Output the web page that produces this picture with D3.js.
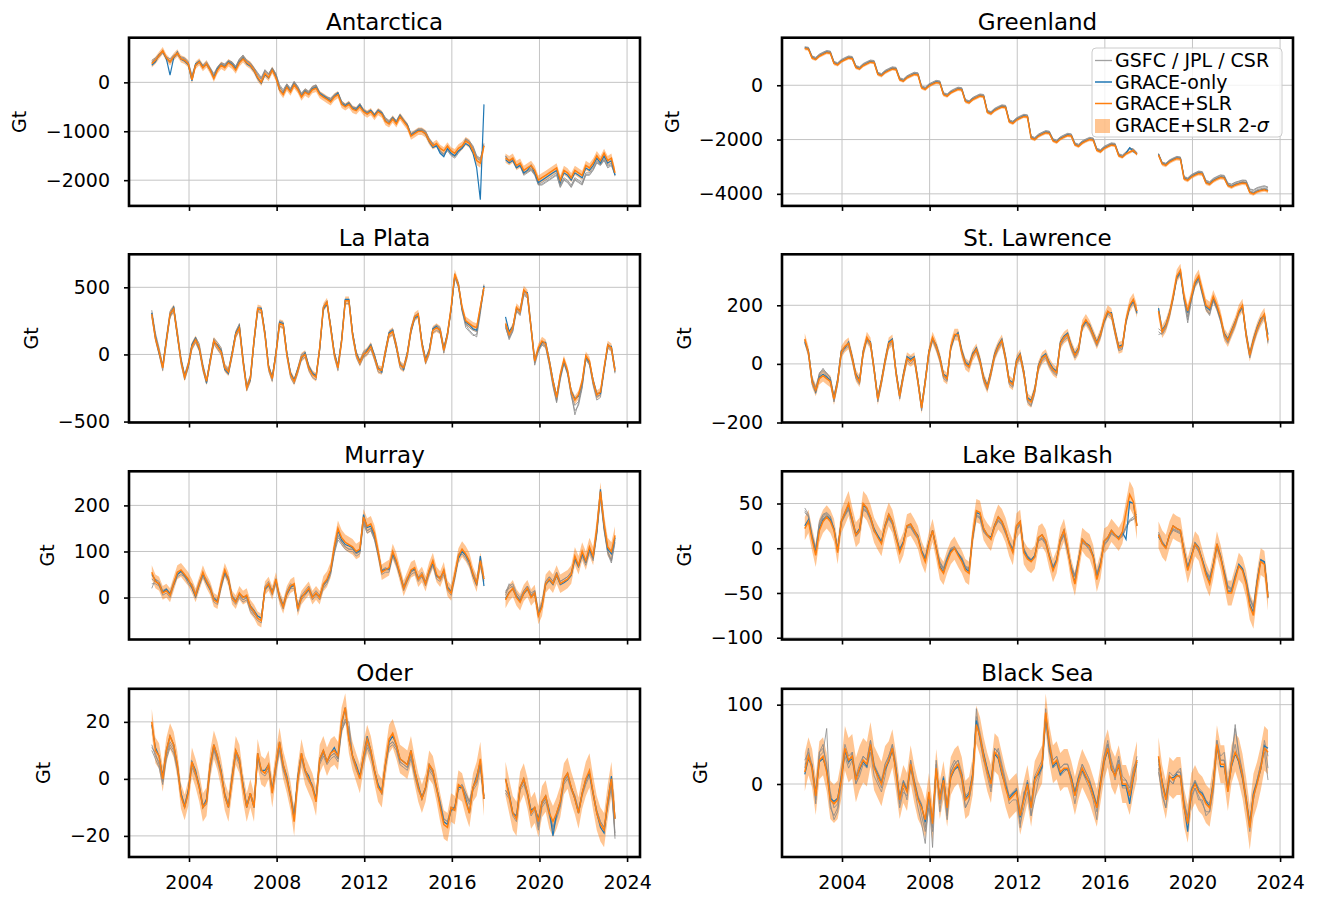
<!DOCTYPE html>
<html><head><meta charset="utf-8">
<script src="https://cdn.jsdelivr.net/npm/d3@7"></script>
<style>body{margin:0;background:#fff}svg{display:block;font-family:"DejaVu Sans",sans-serif}</style>
</head><body><svg id="c" width="1317" height="897"></svg>
<script>
// ---- time grid: bi-monthly samples, GRACE (Apr 2002 – Jun 2017) and GRACE-FO (Jun 2018 – mid 2023)
const N1 = 92, N2 = 31, STEP = 1/6, T1 = 2002.3, T2 = 2018.45;
const X_TICKS = [2004, 2008, 2012, 2016, 2020, 2024];
const X_DOMAIN = [2001.26, 2024.59];

// ---- Antarctica
const ANT_SLR=[380,450,550,650,500,420,520,600,480,450,380,50,350,420,300,380,250,80,250,350,300,400,350,250,400,480,400,350,250,100,0,180,100,250,100,-150,-250,-100,-200,-50,-150,-300,-200,-250,-150,-120,-250,-300,-350,-400,-300,-250,-450,-500,-450,-550,-580,-500,-600,-650,-600,-700,-600,-650,-800,-850,-750,-850,-700,-800,-900,-1100,-1050,-1000,-1000,-1050,-1200,-1300,-1250,-1350,-1400,-1300,-1400,-1450,-1350,-1300,-1200,-1250,-1400,-1600,-1650,-1300,
-1550,-1600,-1550,-1700,-1650,-1800,-1750,-1700,-1800,-2000,-1950,-1900,-1850,-1800,-1750,-2000,-1800,-1850,-1950,-1800,-1850,-1900,-1700,-1750,-1650,-1500,-1600,-1450,-1600,-1550,-1850];
const ANT_GO=[350,420,560,640,480,150,500,620,470,430,360,30,380,430,320,370,260,100,280,360,320,420,370,280,420,500,380,330,230,80,-20,160,90,260,120,-160,-230,-80,-180,-30,-140,-280,-180,-240,-130,-100,-230,-280,-330,-380,-290,-220,-430,-480,-430,-530,-560,-470,-580,-640,-580,-680,-580,-630,-790,-840,-730,-830,-680,-790,-880,-1080,-1030,-980,-990,-1060,-1220,-1330,-1300,-1450,-1520,-1350,-1450,-1500,-1400,-1350,-1250,-1300,-1450,-1750,-2400,-450,
-1580,-1650,-1600,-1750,-1700,-1850,-1800,-1700,-1850,-2050,-2000,-1950,-1900,-1850,-1800,-2050,-1850,-1900,-2000,-1850,-1900,-1950,-1750,-1800,-1700,-1550,-1650,-1500,-1650,-1600,-1900];
const ANT_GSFC=[450,500,580,620,520,480,560,580,520,500,420,150,380,450,350,420,300,180,320,400,380,450,420,330,480,560,450,400,300,200,100,260,180,300,180,-50,-150,-30,-120,20,-80,-220,-130,-180,-80,-50,-200,-250,-300,-320,-250,-200,-380,-450,-400,-500,-520,-430,-560,-600,-560,-650,-550,-600,-720,-780,-700,-780,-650,-760,-850,-1050,-1000,-950,-950,-1000,-1150,-1250,-1300,-1420,-1500,-1400,-1500,-1550,-1450,-1350,-1150,-1200,-1300,-1500,-1550,-1300,
-1500,-1600,-1580,-1750,-1700,-1900,-1850,-1800,-1900,-2100,-2100,-2050,-2000,-1950,-1900,-2150,-2000,-2050,-2150,-2000,-2050,-2100,-1900,-1900,-1800,-1650,-1700,-1600,-1750,-1700,-1900];
const ANT_JPL=[400,480,520,600,480,400,500,560,470,470,360,100,330,400,290,360,240,120,280,380,340,420,400,300,450,520,420,380,280,150,60,220,150,280,150,-100,-200,-60,-160,0,-110,-260,-160,-210,-110,-80,-220,-270,-320,-360,-270,-230,-410,-470,-420,-520,-540,-460,-570,-620,-570,-660,-570,-620,-760,-810,-720,-810,-680,-780,-870,-1080,-1020,-980,-970,-1020,-1180,-1280,-1280,-1400,-1460,-1360,-1460,-1500,-1400,-1320,-1180,-1230,-1350,-1550,-1600,-1250,
-1520,-1620,-1560,-1720,-1680,-1850,-1800,-1760,-1860,-2080,-2050,-2000,-1950,-1900,-1850,-2100,-1950,-2000,-2100,-1950,-2000,-2050,-1850,-1850,-1750,-1600,-1680,-1550,-1700,-1650,-1880];
const ANT_CSR=[420,470,560,630,510,440,540,590,500,480,400,120,360,430,320,400,280,150,300,390,360,440,410,320,470,540,440,390,290,180,80,240,170,290,170,-80,-180,-40,-140,10,-100,-240,-150,-200,-100,-60,-210,-260,-310,-340,-260,-210,-400,-460,-410,-510,-530,-440,-565,-610,-565,-655,-560,-610,-740,-800,-710,-800,-670,-770,-860,-1060,-1010,-960,-960,-1010,-1160,-1260,-1290,-1410,-1480,-1380,-1480,-1520,-1420,-1330,-1160,-1210,-1320,-1520,-1580,-1280,
-1510,-1610,-1570,-1740,-1690,-1870,-1830,-1780,-1880,-2090,-2080,-2030,-1980,-1930,-1880,-2130,-1980,-2030,-2130,-1980,-2030,-2080,-1880,-1880,-1780,-1630,-1690,-1580,-1720,-1680,-1890];
const ANT_SIG=[75,75,75,75,75,75,75,75,75,75,75,75,75,75,85,95,95,95,95,95,95,95];

// ---- Greenland
const GRL_SLR=[1350,1330,1000,950,1070,1140,1200,1180,800,750,870,940,1000,980,650,600,720,790,850,830,400,350,470,540,600,580,200,150,270,340,400,380,-100,-150,-30,40,100,80,-350,-400,-280,-210,-150,-170,-600,-650,-530,-460,-400,-420,-1000,-1050,-930,-860,-800,-820,-1350,-1400,-1280,-1210,-1150,-1170,-1950,-2000,-1880,-1810,-1750,-1770,-2050,-2100,-1980,-1910,-1850,-1870,-2200,-2250,-2130,-2060,-2000,-2020,-2400,-2450,-2330,-2260,-2200,-2220,-2600,-2650,-2530,-2460,-2400,-2550,
-2570,-2900,-2950,-2830,-2760,-2700,-2720,-3450,-3500,-3380,-3310,-3250,-3270,-3600,-3650,-3530,-3460,-3400,-3420,-3700,-3750,-3680,-3640,-3600,-3620,-3950,-4000,-3920,-3880,-3850,-3900];
const GRL_GO=[1370,1340,1020,960,1090,1150,1220,1190,820,760,890,950,1020,990,670,610,740,800,870,840,420,360,490,550,620,590,220,160,290,350,420,390,-80,-140,-10,50,120,90,-330,-390,-260,-200,-130,-160,-580,-640,-510,-450,-380,-410,-980,-1040,-910,-850,-780,-810,-1330,-1390,-1260,-1200,-1130,-1160,-1930,-1990,-1860,-1800,-1730,-1760,-2030,-2090,-1960,-1900,-1830,-1860,-2180,-2240,-2110,-2050,-1980,-2010,-2380,-2440,-2310,-2250,-2180,-2210,-2580,-2640,-2510,-2300,-2450,-2530,
-2550,-2880,-2930,-2810,-2740,-2680,-2700,-3430,-3480,-3360,-3290,-3230,-3250,-3580,-3630,-3510,-3440,-3380,-3400,-3680,-3730,-3660,-3620,-3580,-3600,-3930,-3980,-3900,-3860,-3830,-3880];
const GRL_GSFC=[1400,1380,1060,1010,1130,1200,1260,1240,860,810,930,1000,1060,1040,710,660,780,850,910,890,460,410,530,600,660,640,260,210,330,400,460,440,-40,-90,30,100,160,140,-290,-340,-220,-150,-90,-110,-540,-590,-470,-400,-340,-360,-940,-990,-870,-800,-740,-760,-1290,-1340,-1220,-1150,-1090,-1110,-1890,-1940,-1820,-1750,-1690,-1710,-1990,-2040,-1920,-1850,-1790,-1810,-2140,-2190,-2070,-2000,-1940,-1960,-2340,-2390,-2270,-2200,-2140,-2160,-2540,-2590,-2470,-2300,-2360,-2500,
-2530,-2850,-2890,-2770,-2700,-2640,-2660,-3380,-3430,-3310,-3240,-3180,-3200,-3520,-3570,-3450,-3380,-3320,-3340,-3620,-3660,-3590,-3550,-3510,-3520,-3840,-3880,-3800,-3760,-3730,-3780];
const GRL_JPL=[1380,1360,1030,980,1100,1170,1230,1210,830,780,900,970,1030,1010,680,630,750,820,880,860,430,380,500,570,630,610,230,180,300,370,430,410,-70,-120,0,70,130,110,-320,-370,-250,-180,-120,-140,-570,-620,-500,-430,-370,-390,-970,-1020,-900,-830,-770,-790,-1320,-1370,-1250,-1180,-1120,-1140,-1920,-1970,-1850,-1780,-1720,-1740,-2020,-2070,-1950,-1880,-1820,-1840,-2170,-2220,-2100,-2030,-1970,-1990,-2370,-2420,-2300,-2230,-2170,-2190,-2570,-2620,-2500,-2350,-2380,-2520,
-2550,-2870,-2920,-2800,-2730,-2670,-2690,-3410,-3460,-3340,-3270,-3210,-3230,-3560,-3610,-3490,-3420,-3360,-3380,-3650,-3700,-3630,-3590,-3550,-3570,-3890,-3930,-3850,-3810,-3780,-3830];
const GRL_CSR=[1420,1400,1080,1030,1150,1220,1280,1260,880,830,950,1020,1080,1060,730,680,800,870,930,910,480,430,550,620,680,660,280,230,350,420,480,460,-20,-70,50,120,180,160,-270,-320,-200,-130,-70,-90,-520,-570,-450,-380,-320,-340,-920,-970,-850,-780,-720,-740,-1270,-1320,-1200,-1130,-1070,-1090,-1870,-1920,-1800,-1730,-1670,-1690,-1970,-2020,-1900,-1830,-1770,-1790,-2120,-2170,-2050,-1980,-1920,-1940,-2320,-2370,-2250,-2180,-2120,-2140,-2520,-2570,-2450,-2320,-2340,-2480,
-2510,-2830,-2870,-2750,-2680,-2620,-2640,-3360,-3410,-3290,-3220,-3160,-3180,-3500,-3550,-3430,-3360,-3300,-3320,-3600,-3640,-3570,-3530,-3490,-3500,-3820,-3850,-3770,-3730,-3700,-3750];
const GRL_SIG=[60,60,60,60,60,60,60,60,60,60,60,60,60,60,60,60,70,70,70,70,70,70];

// ---- La Plata
const LAP_SLR=[300,120,20,-100,100,300,340,150,-50,-170,-80,60,110,50,-100,-200,-50,100,60,20,-100,-130,0,150,200,-50,-250,-180,100,340,330,150,-100,-180,0,230,220,0,-150,-200,-120,-20,0,-100,-150,-170,50,350,390,200,0,-100,100,400,400,150,0,-60,0,20,60,-20,-110,-120,20,150,170,60,-80,-100,0,180,280,300,80,-50,20,180,200,180,30,150,350,600,520,350,250,230,210,200,350,500,
230,150,200,350,320,480,450,200,-50,50,100,80,-50,-200,-320,-150,-40,-120,-280,-340,-300,-200,-10,-50,-200,-300,-280,-100,70,50,-120];
const LAP_GO=[310,130,10,-90,110,290,350,140,-40,-160,-90,70,120,40,-90,-210,-40,90,70,30,-110,-140,10,160,210,-40,-240,-190,90,330,340,160,-90,-170,10,240,230,10,-140,-190,-110,-30,10,-90,-140,-160,40,340,380,210,10,-90,110,410,410,160,10,-50,-10,30,70,-10,-100,-130,10,160,180,50,-70,-110,10,170,270,290,90,-40,30,190,210,170,40,160,340,590,530,340,240,220,190,180,340,510,
280,170,210,340,330,470,460,210,-40,40,90,90,-40,-190,-310,-160,-50,-130,-270,-330,-310,-210,-20,-60,-190,-290,-290,-110,60,60,-110];
const LAP_GSFC=[330,160,50,-80,130,320,360,180,-20,-150,-60,80,130,80,-70,-190,-30,120,90,50,-80,-110,20,170,230,-20,-230,-160,120,350,350,170,-80,-170,20,250,240,20,-130,-190,-100,0,20,-80,-130,-160,60,360,400,220,20,-80,110,410,410,170,20,-50,20,40,80,0,-100,-110,40,170,190,80,-60,-90,20,200,290,300,100,-30,40,200,220,200,60,150,330,570,500,320,220,180,150,130,300,520,
200,120,180,330,300,450,430,190,-60,30,80,60,-70,-230,-350,-180,-60,-140,-300,-380,-350,-240,-30,-70,-220,-320,-300,-120,60,40,-130];
const LAP_JPL=[280,110,0,-120,80,280,320,130,-70,-190,-100,40,90,30,-120,-220,-70,80,40,0,-120,-150,-20,130,180,-70,-270,-200,80,320,310,130,-120,-200,-20,210,200,-20,-170,-220,-140,-40,-20,-120,-170,-190,30,330,370,180,-20,-120,80,380,380,130,-20,-80,-20,0,40,-40,-130,-140,0,130,150,40,-100,-120,-20,160,260,280,60,-70,0,160,180,160,10,130,330,580,510,330,200,170,140,150,320,480,
210,110,170,320,290,440,420,180,-80,20,70,50,-80,-240,-360,-190,-70,-150,-310,-420,-380,-250,-40,-80,-230,-340,-320,-130,50,30,-140];
const LAP_CSR=[310,140,30,-90,110,310,350,160,-40,-160,-70,70,120,60,-90,-200,-40,110,70,30,-90,-120,10,160,210,-40,-250,-170,110,340,340,160,-90,-180,10,240,230,10,-140,-200,-110,-10,10,-90,-140,-170,50,350,390,210,10,-90,100,400,400,160,10,-60,10,30,70,-10,-110,-120,30,160,180,70,-70,-100,10,190,280,310,90,-40,30,190,210,190,40,140,340,590,510,340,230,200,180,170,330,510,
220,130,190,340,310,460,440,200,-60,40,90,70,-60,-220,-340,-170,-50,-130,-290,-450,-360,-230,-20,-60,-210,-310,-300,-110,80,50,-130];
const LAP_SIG=[32,32,32,32,32,32,32,32,32,32,32,32,32,32,32,32,32,32,32,32,32,32];

// ---- St. Lawrence
const STL_SLR=[85,40,-60,-90,-50,-40,-50,-60,-120,-60,40,60,70,20,-40,-60,40,90,70,-20,-120,-60,10,70,80,-30,-110,-40,20,10,20,-60,-150,-60,40,90,60,20,-40,-50,60,100,100,40,0,-10,30,50,10,-50,-80,-30,30,60,80,20,-60,-70,10,30,-30,-120,-130,-90,-10,20,30,0,-20,-30,70,90,100,60,30,50,130,150,130,100,70,100,150,180,170,110,55,60,150,200,220,180,
180,110,130,170,230,300,320,230,180,230,280,300,250,200,190,230,200,160,100,80,110,140,180,200,100,30,80,120,150,170,80];
const STL_GO=[75,45,-55,-95,-45,-35,-45,-55,-115,-55,45,55,75,25,-35,-55,45,85,75,-15,-115,-55,15,75,85,-25,-105,-35,25,15,25,-55,-145,-55,45,85,65,25,-35,-45,55,95,105,45,5,-5,35,55,15,-45,-75,-25,35,65,85,25,-55,-65,15,35,-25,-115,-125,-85,-5,25,35,5,-15,-25,75,95,105,65,35,55,125,145,135,105,75,105,145,175,175,115,60,65,145,195,215,175,
190,115,135,175,225,295,315,225,175,225,275,295,245,195,185,225,195,155,105,85,115,145,175,195,105,35,85,125,155,165,100];
const STL_GSFC=[80,30,-70,-100,-30,-20,-30,-50,-130,-70,30,50,60,10,-50,-70,30,80,60,-30,-130,-70,0,60,70,-40,-120,-50,10,20,10,-70,-160,-70,30,80,50,10,-50,-60,50,90,110,50,10,0,40,40,0,-60,-90,-40,20,50,70,10,-70,-80,0,20,-40,-130,-145,-100,-20,10,20,-10,-30,-40,60,80,90,50,20,40,120,140,120,90,60,90,140,170,160,100,45,50,140,190,210,170,
110,100,120,160,220,290,310,220,150,220,270,290,240,190,170,220,190,150,90,70,100,130,170,190,90,20,70,110,140,160,70];
const STL_JPL=[70,35,-65,-85,-40,-25,-40,-65,-125,-65,35,55,65,15,-45,-65,35,85,65,-25,-125,-65,5,65,75,-35,-115,-45,15,0,15,-65,-155,-65,35,85,55,15,-45,-55,55,95,95,35,-5,-15,25,45,5,-55,-85,-35,25,55,75,15,-65,-75,5,25,-35,-125,-140,-95,-15,15,25,-5,-25,-35,65,85,95,55,25,45,125,145,125,95,65,95,145,175,165,105,50,55,145,195,215,175,
100,105,125,165,225,290,305,215,140,215,265,285,235,185,165,215,185,145,95,75,105,135,175,195,95,25,75,115,145,165,75];
const STL_CSR=[80,40,-50,-80,-35,-15,-35,-45,-110,-50,45,60,70,20,-35,-55,40,90,70,-15,-115,-55,10,70,80,-25,-105,-35,20,25,20,-55,-145,-55,40,90,60,20,-35,-45,60,100,100,40,0,-5,30,50,10,-45,-75,-25,30,60,80,20,-55,-65,10,30,-25,-115,-130,-85,-5,20,30,5,-15,-25,70,90,100,60,30,50,130,150,130,100,70,100,150,180,170,110,60,60,150,200,220,180,
120,110,130,170,230,295,310,225,160,225,275,295,245,195,180,225,195,155,100,80,110,140,180,200,100,30,80,120,150,170,80];
const STL_SIG=[20,20,20,20,20,20,20,20,20,20,20,20,20,20,20,22,22,22,22,22,22,22];

// ---- Murray
const MUR_SLR=[55,35,30,10,15,5,30,55,60,50,40,25,5,30,55,35,20,-5,-10,30,60,40,0,-10,10,0,5,-20,-30,-45,-50,20,30,10,40,0,-20,10,25,30,-25,0,10,20,0,10,0,30,40,60,110,150,130,120,115,110,100,105,175,155,160,140,100,55,60,65,100,80,50,20,40,60,65,40,50,30,60,80,50,40,60,20,10,50,90,105,95,80,50,30,80,40,
-5,10,20,0,-10,10,20,0,10,-40,-20,30,40,30,50,30,35,40,50,90,70,100,80,110,90,150,230,160,110,100,135];
const MUR_GO=[50,38,28,12,18,8,28,50,58,48,38,22,2,28,52,32,18,-2,-8,28,55,38,2,-8,8,2,2,-18,-28,-40,-45,18,28,12,38,2,-18,8,22,28,-22,2,8,18,2,8,2,28,38,58,108,145,125,115,112,108,98,102,180,152,155,135,98,58,62,62,95,78,48,22,38,58,62,42,48,32,58,75,48,42,58,22,12,48,85,100,92,78,48,28,90,25,
-2,12,18,2,-8,8,18,2,8,-38,-18,28,38,28,48,28,32,38,48,85,68,95,78,105,88,145,235,155,105,95,130];
const MUR_GSFC=[20,40,35,15,20,10,35,50,55,45,35,30,10,35,50,40,25,0,-5,25,55,45,5,-5,5,-5,0,-25,-35,-40,-45,25,35,15,35,5,-15,15,30,25,-20,5,15,25,5,15,5,25,35,55,100,130,120,110,105,105,95,100,165,145,150,130,95,60,65,60,95,75,55,25,45,55,60,45,55,35,55,75,45,45,55,25,15,45,95,100,90,75,55,35,75,45,
5,25,30,10,0,15,25,10,15,-30,-10,35,45,35,55,35,40,45,55,85,70,95,75,105,85,140,220,150,100,80,125];
const MUR_JPL=[30,30,25,5,10,0,25,45,50,45,30,20,0,25,45,30,15,-10,-15,20,50,35,-5,-15,0,-10,-5,-30,-40,-50,-55,15,25,5,30,-5,-25,5,20,20,-30,-5,5,15,-5,5,-5,20,30,50,95,125,115,105,100,100,90,95,160,140,145,125,90,50,55,55,90,70,45,15,35,50,55,35,45,25,50,70,40,35,50,15,5,40,85,95,85,70,45,25,70,35,
10,30,20,5,-5,10,20,5,10,-35,-15,30,40,30,50,30,35,40,50,80,65,90,70,100,80,135,215,145,95,75,120];
const MUR_CSR=[40,35,30,10,15,5,30,50,55,50,35,25,5,30,50,35,20,-5,-10,25,55,40,0,-10,5,-5,0,-20,-35,-45,-50,20,30,10,35,0,-20,10,25,25,-25,0,10,20,0,10,0,25,35,55,100,135,120,110,105,105,95,100,170,145,150,130,95,55,60,60,95,75,50,20,40,55,60,40,50,30,55,75,45,40,55,20,10,45,90,100,90,75,50,30,75,40,
15,20,25,5,-5,15,25,5,15,-35,-15,35,45,35,55,35,40,45,55,85,70,95,75,105,85,140,225,150,100,80,130];
const MUR_SIG=[15,15,15,15,15,15,15,15,17,17,17,17,17,17,17,18,18,18,20,20,20,20];

// ---- Lake Balkash
const BAL_SLR=[22,30,10,-8,20,30,35,30,20,-5,30,40,50,32,15,20,50,45,35,20,12,5,25,38,30,12,-5,5,25,27,20,12,-5,-15,5,20,0,-22,-28,-15,-5,0,-8,-15,-25,-28,15,42,40,22,15,10,25,35,30,20,5,-5,25,30,-5,-12,-15,-10,12,15,8,-10,-25,-15,10,20,0,-25,-40,-15,10,5,2,-10,-35,-20,8,12,20,15,10,18,40,60,52,25,
15,5,0,15,25,22,20,-5,-25,-10,5,0,-15,-30,-40,-20,5,-10,-30,-50,-50,-35,-20,-25,-40,-65,-75,-40,-15,-18,-55];
const BAL_GO=[25,32,12,-5,22,32,36,32,22,-3,30,40,48,33,16,22,48,44,35,22,14,7,26,38,30,14,-3,7,25,27,20,14,-3,-13,6,20,0,-20,-27,-13,-3,0,-6,-13,-23,-26,14,40,38,22,15,12,26,35,30,20,6,-3,25,30,-3,-10,-14,-8,12,15,8,-8,-23,-13,10,20,0,-23,-38,-13,10,6,3,-8,-33,-18,8,12,20,15,12,18,10,52,50,25,
13,6,1,15,25,22,20,-3,-23,-8,6,1,-13,-28,-38,-18,5,-8,-28,-48,-48,-33,-18,-23,-38,-62,-72,-38,-13,-15,-55];
const BAL_GSFC=[45,38,15,0,30,38,40,36,22,0,30,38,45,30,15,20,45,42,33,20,15,8,25,35,28,12,0,8,25,25,18,12,-2,-10,8,20,2,-15,-22,-10,0,2,-5,-10,-20,-22,12,38,35,20,15,12,25,32,28,18,8,0,22,28,0,-8,-12,-8,10,12,6,-8,-20,-12,8,16,-2,-20,-30,-12,8,5,0,-8,-28,-15,5,10,18,15,12,15,25,32,35,38,
18,8,2,15,22,20,18,-2,-20,-8,5,-2,-12,-25,-32,-18,2,-10,-25,-42,-45,-30,-18,-22,-35,-55,-65,-35,-12,-15,-50];
const BAL_JPL=[40,35,12,-3,25,35,38,33,20,-2,28,36,43,28,13,18,43,40,31,18,13,6,23,33,26,10,-2,6,23,23,16,10,-4,-12,6,18,0,-17,-24,-12,-2,0,-7,-12,-22,-24,10,36,33,18,13,10,23,30,26,16,6,-2,20,26,-2,-10,-14,-10,8,10,4,-10,-22,-14,6,14,-4,-22,-32,-14,6,3,-2,-10,-30,-17,3,8,16,13,10,13,22,30,32,35,
15,5,0,13,20,18,16,-4,-22,-10,3,-4,-14,-27,-34,-20,0,-12,-27,-44,-47,-32,-20,-24,-37,-57,-67,-37,-14,-17,-52];
const BAL_CSR=[42,36,14,-1,27,37,39,35,21,-1,29,37,44,29,14,19,44,41,32,19,14,7,24,34,27,11,-1,7,24,24,17,11,-3,-11,7,19,1,-16,-23,-11,-1,1,-6,-11,-21,-23,11,37,34,19,14,11,24,31,27,17,7,-1,21,27,-1,-9,-13,-9,9,11,5,-9,-21,-13,7,15,-3,-21,-31,-13,7,4,-1,-9,-29,-16,4,9,17,14,11,14,23,31,33,36,
16,6,1,14,21,19,17,-3,-21,-9,4,-3,-13,-26,-33,-19,1,-11,-26,-43,-46,-31,-19,-23,-36,-56,-66,-36,-13,-16,-56];
const BAL_SIG=[13,13,14,14,13,13,13,13,13,14,13,13,13,14,13,15,15,14,14,14,15,15];

// ---- Oder
const ODE_SLR=[20,10,8,0,10,15,12,5,-6,-10,-5,6,2,-3,-10,-8,5,12,8,2,-6,-10,0,10,7,-3,-10,-5,-10,9,3,2,5,-5,5,13,5,0,-6,-15,0,9,3,0,-3,-8,7,10,6,9,10,8,20,25,14,8,4,0,8,14,10,3,-3,-5,5,14,16,12,7,6,5,10,3,-3,-7,-3,5,3,-3,-10,-16,-17,-10,-11,-2,-3,-8,-12,-3,0,7,-7,
0,-6,-12,-14,-3,0,-5,-12,-10,-15,-8,-6,-12,-15,-12,-8,0,2,-3,-7,-12,-5,0,3,-5,-12,-16,-18,-8,0,-14];
const ODE_GO=[19,11,8,1,10,15,12,5,-5,-10,-4,6,3,-3,-10,-7,5,12,8,3,-6,-10,1,10,7,-2,-10,-5,-10,9,3,3,5,-4,5,13,5,1,-6,-14,1,9,3,1,-3,-7,7,10,6,9,11,8,19,25,14,8,5,1,8,15,10,3,-2,-5,5,13,15,12,7,6,5,10,3,-2,-7,-3,5,3,-3,-9,-15,-16,-11,-10,-3,-3,-7,-12,-3,1,6,-7,
0,-5,-12,-13,-3,0,-5,-11,-10,-14,-8,-6,-11,-20,-12,-8,0,2,-3,-7,-12,-5,0,2,-5,-12,-17,-19,-8,1,-14];
const ODE_GSFC=[12,8,6,-1,8,12,10,4,-5,-9,-4,5,2,-2,-9,-8,4,11,7,2,-5,-9,0,9,6,-2,-9,-5,-9,8,3,2,4,-4,4,11,4,0,-6,-12,0,8,3,0,-2,-7,6,9,6,8,9,7,18,21,17,8,4,1,7,12,9,3,-2,-4,5,12,13,11,6,5,4,8,2,-3,-6,-3,4,2,-3,-8,-14,-15,-10,-10,-3,-2,-5,-8,-3,-1,5,-6,
-4,-6,-12,-14,-3,-1,-5,-12,-10,-17,-9,-7,-12,-17,-13,-9,-1,1,-3,-6,-11,-5,-1,2,-5,-11,-15,-17,-9,-2,-20];
const ODE_JPL=[10,7,4,-2,7,11,9,3,-6,-10,-5,4,1,-3,-10,-9,3,10,6,1,-6,-10,-1,8,5,-3,-10,-6,-10,7,2,1,3,-5,3,10,3,-1,-7,-13,-1,7,2,-1,-3,-8,5,8,5,7,8,6,17,20,18,7,3,0,6,11,8,2,-3,-5,4,11,12,10,5,4,3,7,1,-4,-7,-4,3,1,-4,-9,-15,-16,-11,-11,-4,-3,-6,-9,-4,-2,4,-7,
-5,-7,-13,-15,-4,-2,-6,-13,-11,-18,-10,-8,-13,-18,-14,-10,-2,0,-4,-7,-12,-6,-2,1,-6,-12,-16,-18,-10,-3,-21];
const ODE_CSR=[11,9,5,0,9,13,11,4,-5,-9,-4,5,2,-2,-9,-8,4,11,7,2,-5,-9,0,9,6,-2,-9,-5,-9,8,3,2,4,-4,4,12,4,0,-5,-12,0,8,3,0,-2,-7,6,9,6,8,9,7,17,20,20,8,4,1,7,13,9,3,-2,-4,5,12,13,11,6,5,4,9,2,-3,-6,-3,4,2,-3,-8,-14,-15,-10,-10,-3,-2,-5,-8,-3,-1,5,-6,
-4,-6,-12,-14,-3,-1,-5,-12,-10,-16,-9,-7,-12,-17,-13,-9,-1,1,-3,-6,-11,-5,-1,2,-5,-11,-15,-17,-9,-1,-19];
const ODE_SIG=[4.5,4.5,5,5,5,5,5,5,5,5,5,5,5,5,5,6,6,5.5,5.5,5.5,6,6];

// ---- Black Sea
const BLK_SLR=[15,35,20,-15,30,35,15,-20,-25,-20,5,45,30,35,5,20,30,25,50,20,10,0,20,30,45,15,-20,0,-10,25,0,-20,-30,-45,-10,-50,20,-20,5,-30,10,20,25,10,-20,-15,10,75,60,35,15,0,40,35,15,-5,-20,-15,-10,-40,-20,0,-30,5,15,25,90,50,25,30,15,20,20,5,-15,5,20,10,0,-15,-30,0,30,45,20,10,25,0,0,-15,10,30,
35,0,-20,10,5,10,10,-30,-50,-10,0,-10,-15,-25,-30,0,50,25,25,-10,25,40,30,10,-20,-55,-15,0,20,45,40];
const BLK_GO=[12,32,22,-12,28,32,18,-18,-22,-18,8,42,28,32,8,18,28,22,48,22,12,2,18,28,42,18,-18,2,-8,22,2,-18,-28,-48,-12,-48,18,-18,8,-28,8,18,22,12,-18,-12,12,80,58,38,18,2,38,32,12,-2,-18,-12,-8,-42,-18,2,-28,8,12,22,85,48,22,28,12,18,18,8,-12,8,18,8,2,-12,-28,2,28,42,18,12,22,-2,-2,-25,8,28,
32,2,-18,8,8,12,8,-28,-60,-8,2,-8,-12,-22,-28,2,48,22,22,-8,22,38,28,8,-18,-52,-12,2,18,48,45];
const BLK_GSFC=[30,40,25,-25,40,45,25,-30,-40,-30,10,35,20,30,0,10,25,20,40,10,0,-10,10,35,50,25,-25,-5,-20,30,5,-15,-40,-60,-30,-60,30,-25,0,-40,20,30,20,5,-30,-20,5,85,65,40,20,-5,45,40,20,0,-25,-20,-20,-50,-30,-10,-40,0,10,20,80,40,30,35,20,25,25,10,-10,10,25,15,5,-10,-35,-5,25,50,30,15,35,10,5,-5,20,30,
15,-10,-30,5,0,15,15,-25,-45,-20,-5,-15,-25,-35,-35,-10,45,30,30,-5,30,50,25,5,-25,-45,-20,5,25,40,5];
const BLK_JPL=[20,45,15,-20,35,40,70,-25,-45,-35,0,40,25,40,0,15,35,30,55,25,5,-5,25,35,50,10,-30,-10,-15,20,-5,-30,-50,-75,-20,-55,25,-35,0,-45,15,25,30,5,-30,-20,5,95,55,30,10,-10,35,45,25,5,-15,-15,-5,-55,-10,-5,-40,-20,5,20,95,40,20,25,10,15,20,0,-25,0,15,5,-5,-20,-45,5,35,55,25,5,30,-5,-5,-20,5,25,
20,-15,-30,5,0,15,20,-20,-45,-15,-5,-20,-20,-40,-35,-5,55,35,40,-5,30,70,40,15,-25,-60,-20,5,20,55,35];
const BLK_CSR=[25,30,25,-10,40,50,20,-10,-30,-25,15,50,35,40,10,25,35,30,55,25,15,5,25,35,45,20,-15,5,-5,30,5,-15,-25,-55,-15,-80,15,-15,10,-35,15,25,30,15,-15,-10,15,80,55,30,20,5,45,40,20,0,-15,-10,-5,-35,-15,5,-25,10,20,30,85,55,30,35,20,25,25,10,-10,10,25,15,5,-10,-25,5,35,50,25,15,30,5,5,-10,15,35,
25,5,-15,15,10,15,15,-25,-40,-5,5,-5,-10,-20,-25,5,55,30,30,-5,30,75,35,15,-15,-50,-10,5,25,50,20];
const BLK_SIG=[24,24,28,28,24,24,24,24,24,24,24,24,24,24,24,24,24,24,24,24,28,28];

// ---- panel list (title, grid position, y domain, y tick labels, series)
const PANELS = [
  {title:"Antarctica", col:0,row:0, dom:[-2526,913], yt:[-2000,-1000,0], slr:ANT_SLR, go:ANT_GO, gray:[ANT_GSFC,ANT_JPL,ANT_CSR], sig:ANT_SIG},
  {title:"Greenland", col:1,row:0, dom:[-4444,1752], yt:[-4000,-2000,0], slr:GRL_SLR, go:GRL_GO, gray:[GRL_GSFC,GRL_JPL,GRL_CSR], sig:GRL_SIG, legend:true},
  {title:"La Plata", col:0,row:1, dom:[-507,746], yt:[-500,0,500], slr:LAP_SLR, go:LAP_GO, gray:[LAP_GSFC,LAP_JPL,LAP_CSR], sig:LAP_SIG},
  {title:"St. Lawrence", col:1,row:1, dom:[-200,374], yt:[-200,0,200], slr:STL_SLR, go:STL_GO, gray:[STL_GSFC,STL_JPL,STL_CSR], sig:STL_SIG},
  {title:"Murray", col:0,row:2, dom:[-91,274], yt:[0,100,200], slr:MUR_SLR, go:MUR_GO, gray:[MUR_GSFC,MUR_JPL,MUR_CSR], sig:MUR_SIG},
  {title:"Lake Balkash", col:1,row:2, dom:[-102,86], yt:[-100,-50,0,50], slr:BAL_SLR, go:BAL_GO, gray:[BAL_GSFC,BAL_JPL,BAL_CSR], sig:BAL_SIG},
  {title:"Oder", col:0,row:3, dom:[-27.4,31.6], yt:[-20,0,20], slr:ODE_SLR, go:ODE_GO, gray:[ODE_GSFC,ODE_JPL,ODE_CSR], sig:ODE_SIG},
  {title:"Black Sea", col:1,row:3, dom:[-92,120], yt:[0,100], slr:BLK_SLR, go:BLK_GO, gray:[BLK_GSFC,BLK_JPL,BLK_CSR], sig:BLK_SIG}
];
const LEGEND = ["GSFC / JPL / CSR","GRACE-only","GRACE+SLR","GRACE+SLR 2-"];

// ---- layout
const COL_X = [129, 782], ROW_Y = [37.7, 254.3, 471.3, 688.8], AW = 511, AH = 168.2;
const FONT = '"DejaVu Sans", sans-serif';
const C_ORANGE="#ff7f0e", C_BLUE="#1f77b4", C_GRAY="#8a8a8a";
const fmt = v => (v<0?"\u2212":"") + Math.abs(v);

const svg = d3.select("#c");
const tOf = i => i < N1 ? T1 + i*STEP : T2 + (i-N1)*STEP;
function segs(arr){ // split one series into the GRACE and GRACE-FO pieces
  const pts = arr.map((v,i)=>({t:tOf(i), v, i}));
  return [pts.slice(0,N1), pts.slice(N1)];
}

PANELS.forEach((p,pi)=>{
  const x0 = COL_X[p.col], y0 = ROW_Y[p.row];
  const x = d3.scaleLinear().domain(X_DOMAIN).range([x0, x0+AW]);
  const y = d3.scaleLinear().domain(p.dom).range([y0+AH, y0]);
  const g = svg.append("g");
  const cid = "clip"+pi;
  svg.append("clipPath").attr("id",cid).append("rect").attr("x",x0).attr("y",y0).attr("width",AW).attr("height",AH);

  // grid
  const grid = g.append("g").attr("stroke","#c4c4c4").attr("stroke-width",1);
  X_TICKS.forEach(t=>grid.append("line").attr("x1",x(t)).attr("x2",x(t)).attr("y1",y0).attr("y2",y0+AH));
  p.yt.forEach(v=>grid.append("line").attr("x1",x0).attr("x2",x0+AW).attr("y1",y(v)).attr("y2",y(v)));

  const plot = g.append("g").attr("clip-path",`url(#${cid})`);
  const sigAt = t => p.sig[Math.min(p.sig.length-1, Math.floor(t)-2002)];
  const area = d3.area().x(d=>x(d.t)).y0(d=>y(d.v - sigAt(d.t))).y1(d=>y(d.v + sigAt(d.t)));
  const line = d3.line().x(d=>x(d.t)).y(d=>y(d.v));

  segs(p.slr).forEach(s=>plot.append("path").attr("d",area(s)).attr("fill",C_ORANGE).attr("fill-opacity",0.45));
  p.gray.forEach(arr=>segs(arr).forEach(s=>plot.append("path").attr("d",line(s)).attr("fill","none")
      .attr("stroke",C_GRAY).attr("stroke-opacity",0.8).attr("stroke-width",1)));
  segs(p.go).forEach(s=>plot.append("path").attr("d",line(s)).attr("fill","none").attr("stroke",C_BLUE).attr("stroke-width",1.2));
  segs(p.slr).forEach(s=>plot.append("path").attr("d",line(s)).attr("fill","none").attr("stroke",C_ORANGE).attr("stroke-width",1.5));

  // frame
  g.append("rect").attr("x",x0).attr("y",y0).attr("width",AW).attr("height",AH)
    .attr("fill","none").attr("stroke","#000").attr("stroke-width",2.6);

  // axes
  const xa = d3.axisBottom(x).tickValues(X_TICKS).tickSizeInner(5).tickSizeOuter(0).tickPadding(14)
      .tickFormat(p.row===3 ? d3.format("d") : ()=>"");
  const gx = g.append("g").attr("transform",`translate(0,${y0+AH})`).call(xa);
  const ya = d3.axisLeft(y).tickValues(p.yt).tickSizeInner(5).tickSizeOuter(0).tickPadding(14).tickFormat(fmt);
  const gy = g.append("g").attr("transform",`translate(${x0},0)`).call(ya);
  [gx,gy].forEach(a=>{
    a.select(".domain").remove();
    a.selectAll("line").attr("stroke","#000").attr("stroke-width",1.6);
    a.selectAll("text").attr("font-family",FONT).attr("font-size",19).attr("fill","#000");
  });

  // y label
  let minX = 0;
  gy.selectAll("text").each(function(){ const b=this.getBBox(); minX=Math.min(minX,b.x); });
  const lx = x0 + minX - 27;
  g.append("text").attr("transform",`translate(${lx+7},${y0+AH/2}) rotate(-90)`)
    .attr("text-anchor","middle").attr("font-family",FONT).attr("font-size",19).text("Gt");

  // title
  g.append("text").attr("x",x0+AW/2).attr("y",y0-8).attr("text-anchor","middle")
    .attr("font-family",FONT).attr("font-size",23).text(p.title);

  if(p.legend){
    const lg = g.append("g");
    lg.append("rect").attr("x",1092).attr("y",48).attr("width",190).attr("height",89).attr("rx",4)
      .attr("fill","#fff").attr("fill-opacity",0.8).attr("stroke","#cccccc").attr("stroke-width",1);
    const base = [67,88.5,110,131.5];
    const cols = [C_GRAY, C_BLUE, C_ORANGE];
    LEGEND.forEach((txt,k)=>{
      if(k<3){
        lg.append("line").attr("x1",1095).attr("x2",1112).attr("y1",base[k]-6.5).attr("y2",base[k]-6.5)
          .attr("stroke",cols[k]).attr("stroke-width",k===0?1.3:1.5).attr("stroke-opacity",k===0?0.8:1);
      } else {
        lg.append("rect").attr("x",1095).attr("y",119).attr("width",15).attr("height",14)
          .attr("fill",C_ORANGE).attr("fill-opacity",0.45);
      }
      const t = lg.append("text").attr("x",1115).attr("y",base[k]).attr("font-family",FONT).attr("font-size",19).text(txt);
      if(k===3) t.append("tspan").attr("font-style","italic").text("\u03c3");
    });
  }
});
</script></body></html>
